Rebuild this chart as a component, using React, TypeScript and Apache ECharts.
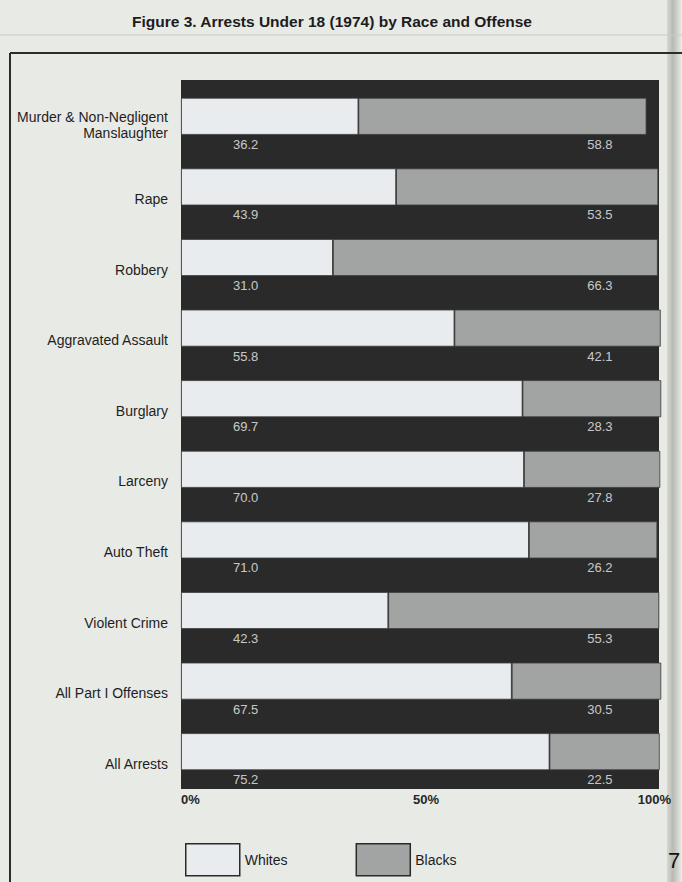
import React, { useEffect, useRef } from "react";
import * as echarts from "echarts";

const categories = [
  "Murder & Non-Negligent\nManslaughter",
  "Rape",
  "Robbery",
  "Aggravated Assault",
  "Burglary",
  "Larceny",
  "Auto Theft",
  "Violent Crime",
  "All Part I Offenses",
  "All Arrests",
];
const whites = [36.2, 43.9, 31.0, 55.8, 69.7, 70.0, 71.0, 42.3, 67.5, 75.2];
const blacks = [58.8, 53.5, 66.3, 42.1, 28.3, 27.8, 26.2, 55.3, 30.5, 22.5];
const xTicks = [0, 50, 100];
const seriesNames = ["Whites", "Blacks"];
const title = "Figure 3. Arrests Under 18 (1974) by Race and Offense";

const FONT = "'Liberation Sans', Arial, Helvetica, sans-serif";
const PAGE = "#e8eae6";
const PANEL = "#2a2a2a";
const WHITE_BAR = "#e9ecee";
const GRAY_BAR = "#a2a4a4";

export default function App() {
  const ref = useRef<HTMLDivElement>(null);
  useEffect(() => {
    if (!ref.current) return;
    const chart = echarts.init(ref.current, null, { renderer: "svg" });
    const gridLeft = 181;
    const gridTop = 81;
    const gridW = 490;
    const gridH = 706;
    const valueLabel = {
      show: true,
      position: "inside",
      align: "left",
      offset: [0, 28],
      fontFamily: FONT,
      fontSize: 13,
      color: "#f2f2f2",
    };
    chart.setOption({
      animation: false,
      backgroundColor: PAGE,
      title: {
        text: title,
        left: 127,
        top: 8,
        textStyle: { fontFamily: FONT, fontSize: 15.5, fontWeight: "bold", color: "#1c1c1c" },
      },
      graphic: [
        { type: "line", shape: { x1: 0, y1: 35, x2: 682, y2: 35 }, style: { stroke: "#c9cbc7", lineWidth: 1 } },
        { type: "line", shape: { x1: 10, y1: 53, x2: 682, y2: 53 }, style: { stroke: "#2c2c2c", lineWidth: 2 } },
        { type: "line", shape: { x1: 10, y1: 53, x2: 10, y2: 882 }, style: { stroke: "#2c2c2c", lineWidth: 2 } },
        {
          type: "rect",
          shape: { x: 667, y: 0, width: 15, height: 882 },
          style: {
            fill: new echarts.graphic.LinearGradient(0, 0, 1, 0, [
              { offset: 0, color: "#d6d7d0" },
              { offset: 0.4, color: "#b9bab2" },
              { offset: 1, color: "#ecece8" },
            ]),
          },
          z: -1,
        },
        {
          type: "rect",
          shape: { x: 181, y: 80, width: 478, height: 709 },
          style: { fill: PANEL },
          z: -1,
        },
        {
          type: "text",
          x: 668,
          y: 849,
          style: { text: "7", font: "22px " + FONT, fill: "#111" },
        },
      ],
      legend: {
        data: seriesNames,
        left: 180,
        top: 838,
        itemWidth: 54,
        itemHeight: 32,
        itemGap: 68,
        icon: "rect",
        itemStyle: { borderColor: "#2a2a2a", borderWidth: 1.5 },
        textStyle: { fontFamily: FONT, fontSize: 14, color: "#1c1c1c", padding: [18, 0, 0, 0] },
        selectedMode: false,
      },
      grid: { left: gridLeft, top: gridTop, width: gridW, height: gridH },
      xAxis: {
        type: "value",
        min: 0,
        max: 100,
        interval: 50,
        axisLine: { show: false },
        axisTick: { show: false },
        splitLine: { show: false },
        axisLabel: {
          margin: 6,
          fontFamily: FONT,
          fontSize: 13,
          fontWeight: "bold",
          color: "#262626",
          formatter: (v: number) => (xTicks.includes(v) ? v + "%" : ""),
          alignMinLabel: "left",
          alignMaxLabel: "right",
        },
      },
      yAxis: {
        type: "category",
        data: categories,
        inverse: true,
        axisLine: { show: false },
        axisTick: { show: false },
        splitLine: { show: false },
        axisLabel: {
          margin: 13,
          fontFamily: FONT,
          fontSize: 14,
          color: "#1e1e1e",
          align: "right",
          verticalAlign: "middle",
          formatter: (v: string) => {
            const lines = v.split("\n");
            if (lines.length > 1) {
              return "{e2| }\n" + lines.map((l) => "{m|" + l + "}").join("\n");
            }
            return "{e| }\n{m|" + v + "}";
          },
          rich: {
            e: { lineHeight: 24, fontSize: 4 },
            e2: { lineHeight: 18, fontSize: 4 },
            m: { lineHeight: 16, fontSize: 14, fontFamily: FONT, color: "#1e1e1e" },
          },
        },
      },
      series: [
        {
          name: seriesNames[0],
          type: "bar",
          stack: "all",
          data: whites,
          barWidth: 37,
          itemStyle: { color: WHITE_BAR, borderColor: "#3a3a3a", borderWidth: 0.8 },
        },
        {
          name: seriesNames[1],
          type: "bar",
          stack: "all",
          data: blacks,
          barWidth: 37,
          itemStyle: { color: GRAY_BAR, borderColor: "#3a3a3a", borderWidth: 0.8 },
        },
        {
          name: "whitesLabel",
          type: "scatter",
          symbolSize: 1,
          itemStyle: { color: "rgba(0,0,0,0)" },
          data: categories.map((c, i) => [10.6, i, whites[i]]),
          label: { ...valueLabel, formatter: (p: any) => whites[p.dataIndex].toFixed(1) },
          z: 5,
        },
        {
          name: "blacksLabel",
          type: "scatter",
          symbolSize: 1,
          itemStyle: { color: "rgba(0,0,0,0)" },
          data: categories.map((c, i) => [82.9, i, blacks[i]]),
          label: { ...valueLabel, formatter: (p: any) => blacks[p.dataIndex].toFixed(1) },
          z: 5,
        },
      ],
    });
    return () => chart.dispose();
  }, []);
  return (
    <div
      ref={ref}
      style={{ position: "fixed", left: 0, top: 0, width: 682, height: 882 }}
    />
  );
}
